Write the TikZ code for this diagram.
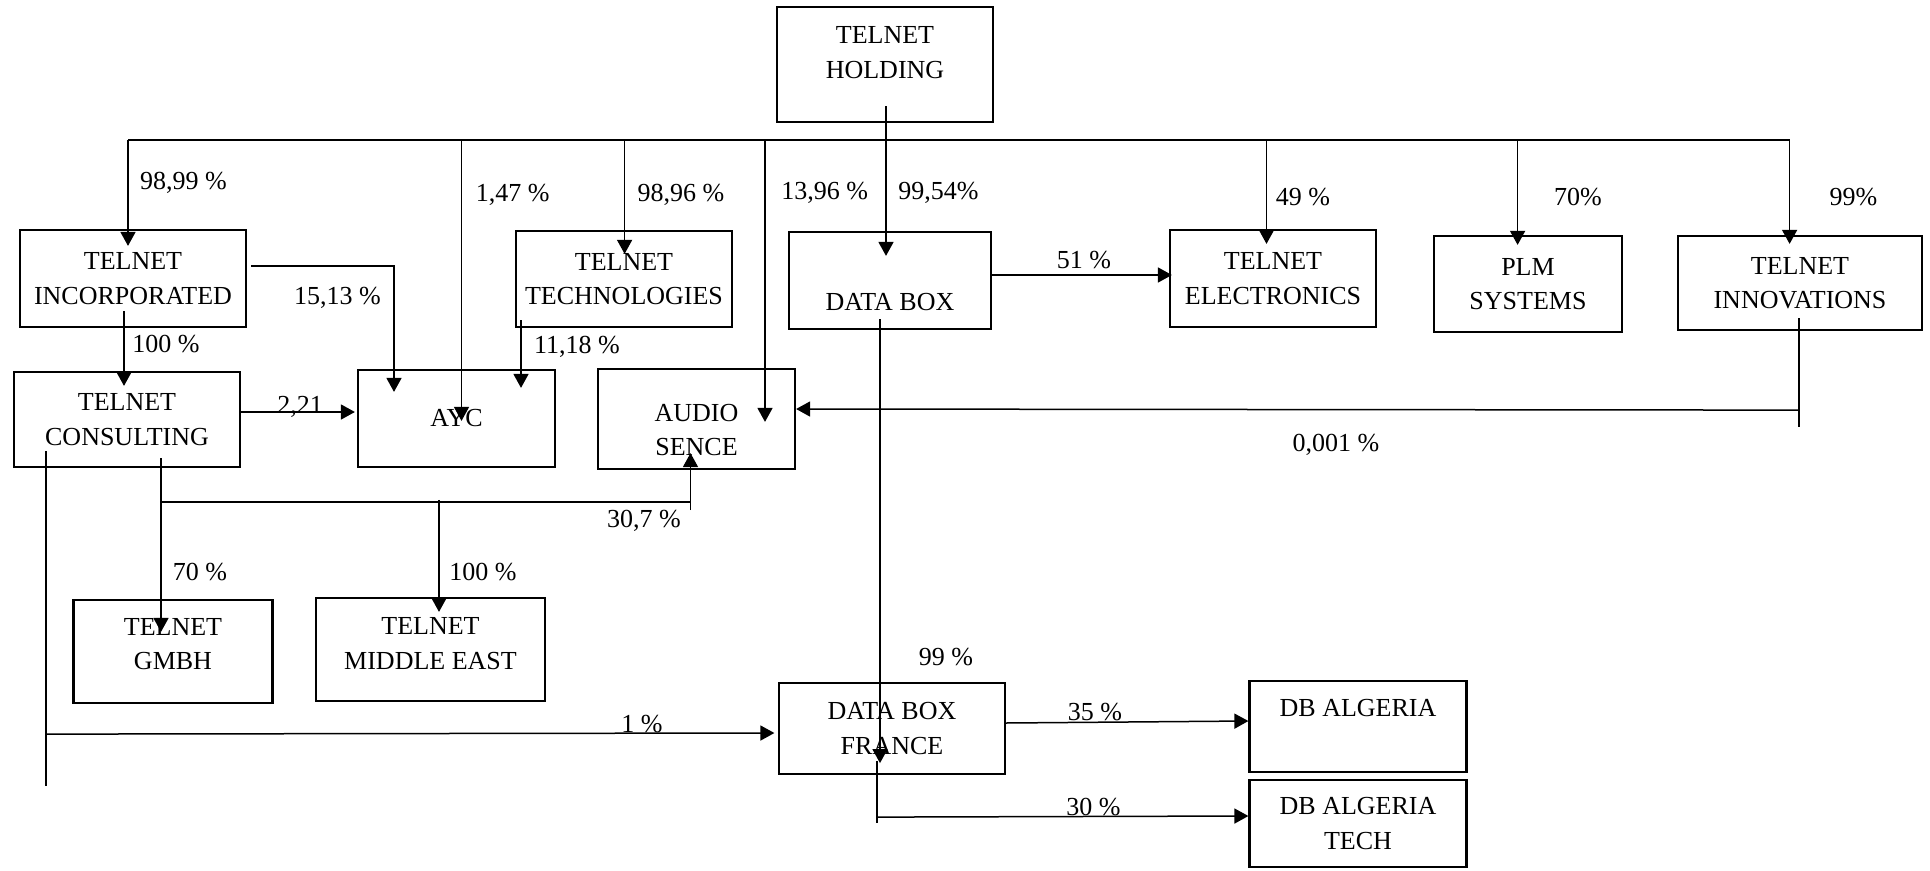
\documentclass[tikz,border=0pt]{standalone}
\usepackage{fontspec}
\setmainfont{Liberation Serif}
\usetikzlibrary{calc}
\usetikzlibrary{arrows.meta}

\tikzset{
  every node/.style={font=\fontsize{26}{34.5}\selectfont},
  box/.style={draw, line width=2.2pt, align=center, inner sep=0pt},
  link/.style={line width=1.5pt},
  arr/.style={link, -{Triangle[length=14pt,width=15pt]}},
  pct/.style={inner sep=0pt}
}

\begin{document}
\begin{tikzpicture}[x=1pt,y=-1pt]
\useasboundingbox (0,0) rectangle (1930,870);
% companies
\node[box, minimum width=216pt, minimum height=115pt, text depth=24pt] (hold) at (885,64.5) {TELNET\\HOLDING};
\node[box, minimum width=226pt, minimum height=97pt] (inc) at (133,278.5) {TELNET\\INCORPORATED};
\node[box, minimum width=216pt, minimum height=96pt] (tech) at (624,279) {TELNET\\TECHNOLOGIES};
\node[box, minimum width=202pt, minimum height=97pt, text height=60pt] (dbox) at (890,280.5) {DATA BOX};
\node[box, minimum width=206pt, minimum height=97pt] (elec) at (1273,278.5) {TELNET\\ELECTRONICS};
\node[box, minimum width=188pt, minimum height=96pt] (plm) at (1528,284) {PLM\\SYSTEMS};
\node[box, minimum width=244pt, minimum height=94pt] (innov) at (1800,283) {TELNET\\INNOVATIONS};
\node[box, minimum width=226pt, minimum height=95pt] (cons) at (127,419.5) {TELNET\\CONSULTING};
\node[box, minimum width=197pt, minimum height=97pt] (ayc) at (456.5,418.5) {AYC};
\node[box, minimum width=197pt, minimum height=100pt, text height=74pt] (audio) at (696.5,419) {AUDIO\\SENCE};
\node[box, minimum width=199pt, minimum height=103pt, text depth=15pt] (gmbh) at (173,651.5) {TELNET\\GMBH};
\node[box, minimum width=229pt, minimum height=103pt, text depth=12pt] (mideast) at (430.5,649.5) {TELNET\\MIDDLE EAST};
\node[box, minimum width=226pt, minimum height=91pt] (dbfr) at (892,728.5) {DATA BOX\\FRANCE};
\node[box, minimum width=217pt, minimum height=91pt, text depth=37pt] (dbalg) at (1358,726.5) {DB ALGERIA};
\node[box, minimum width=217pt, minimum height=87pt] (dbtech) at (1358,823.5) {DB ALGERIA\\TECH};

% holding bus
\coordinate (b1) at (128,140);
\coordinate (b2) at (461.5,140);
\coordinate (b3) at (624.6,140);
\coordinate (b4) at (765,140);
\coordinate (b5) at (1266.5,140);
\coordinate (b6) at (1517.6,140);
\coordinate (b7) at (1789.6,140);
\draw[link, line width=2pt] (b1) -- (b7);
\draw[arr] ($(hold.south)+(1,-17)$) -- ($(dbox.north)+(-4,25)$);
\draw[arr] (b1) -- ($(inc.north)+(-5,17)$);
\draw[arr] (b2) -- ($(ayc.north)+(5,52)$);
\draw[arr] (b3) -- ($(tech.north)+(0.6,24)$);
\draw[arr] (b4) -- ($(audio.north)+(68.5,54)$);
\draw[arr] (b5) -- ($(elec.north)+(-6.5,15)$);
\draw[arr] (b6) -- ($(plm.north)+(-10.4,10)$);
\draw[arr] (b7) -- ($(innov.north)+(-10.4,9)$);

% links between subsidiaries
\draw[arr] ($(inc.south)+(-9,-17)$) -- ($(cons.north)+(-3,15)$);
\draw[arr] ($(inc.east)+(4,-12.5)$) -| ($(ayc.north)+(-62.5,23)$);
\draw[arr] ($(tech.south)+(-103,-8)$) -- ($(ayc.north)+(64.5,19)$);
\draw[arr] ($(cons.east)+(0,-7.5)$) -- ($(ayc.west)+(-2,-6.5)$);
\draw[arr] ($(dbox.east)+(0,-5.5)$) -- ($(elec.west)+(3,-3.5)$);
\draw[link] ($(innov.south)+(-1,-13)$) -- ($(innov.south)+(-1,96)$);
\draw[arr] ($(innov.south)+(-1,79)$) -- ($(audio.east)+(0,-10)$);

\coordinate (cj) at ($(cons.south)+(34,34)$);
\draw[arr] ($(cons.south)+(34,-10)$) -- ($(gmbh.north)+(-12,33)$);
\draw[link] (cj) -- ($(audio.south)+(-6,32)$);
\draw[arr] ($(audio.south)+(-6,40)$) -- ($(audio.south)+(-6,-17)$);
\draw[arr] ($(mideast.north)+(8.5,-97)$) -- ($(mideast.north)+(8.5,15)$);

\draw[arr] ($(dbox.south)+(-10,-11)$) -- ($(dbfr.south)+(-12,-12)$);
\draw[link] ($(dbfr.south)+(-15,-14)$) -- ($(dbfr.south)+(-15,48)$);
\draw[arr] ($(dbfr.south)+(-15,42)$) -- ($(dbtech.west)+(0,-7.5)$);
\draw[arr] ($(dbfr.east)+(0,-5.5)$) -- ($(dbalg.west)+(0,-5.5)$);
\draw[link] ($(cons.south)+(-81,-17)$) -- ($(cons.south)+(-81,318)$);
\draw[arr] ($(cons.south)+(-81,266)$) -- ($(dbfr.west)+(-3.5,4.5)$);

% percentages
\draw (183.5,183) node[pct] (p9899) {98,99 \%};
\draw (512.6,195) node[pct] (p147) {1,47 \%};
\draw (681,195) node[pct] (p9896) {98,96 \%};
\draw (824.6,193) node[pct] (p1396) {13,96 \%};
\draw (938.5,193) node[pct] (p9954) {99,54\%};
\draw (1303,197) node[pct] (p49) {49 \%};
\draw (1578,197) node[pct] (p70plm) {70\%};
\draw (1853.5,197) node[pct] (p99inn) {99\%};
\draw (337.5,298) node[pct] (p1513) {15,13 \%};
\draw (166,344) node[pct] (p100cons) {100 \%};
\draw (577,347) node[pct] (p1118) {11,18 \%};
\draw (1084,260) node[pct] (p51) {51 \%};
\draw (300,407) node[pct] (p221) {2,21};
\draw (1336,445) node[pct] (p0001) {0,001 \%};
\draw (644,521) node[pct] (p307) {30,7 \%};
\draw (200,572) node[pct] (p70gmbh) {70 \%};
\draw (483,572) node[pct] (p100me) {100 \%};
\draw (946,657) node[pct] (p99fr) {99 \%};
\draw (642,724) node[pct] (p1) {1 \%};
\draw (1095,712) node[pct] (p35) {35 \%};
\draw (1093.5,807) node[pct] (p30) {30 \%};
\end{tikzpicture}
\end{document}
